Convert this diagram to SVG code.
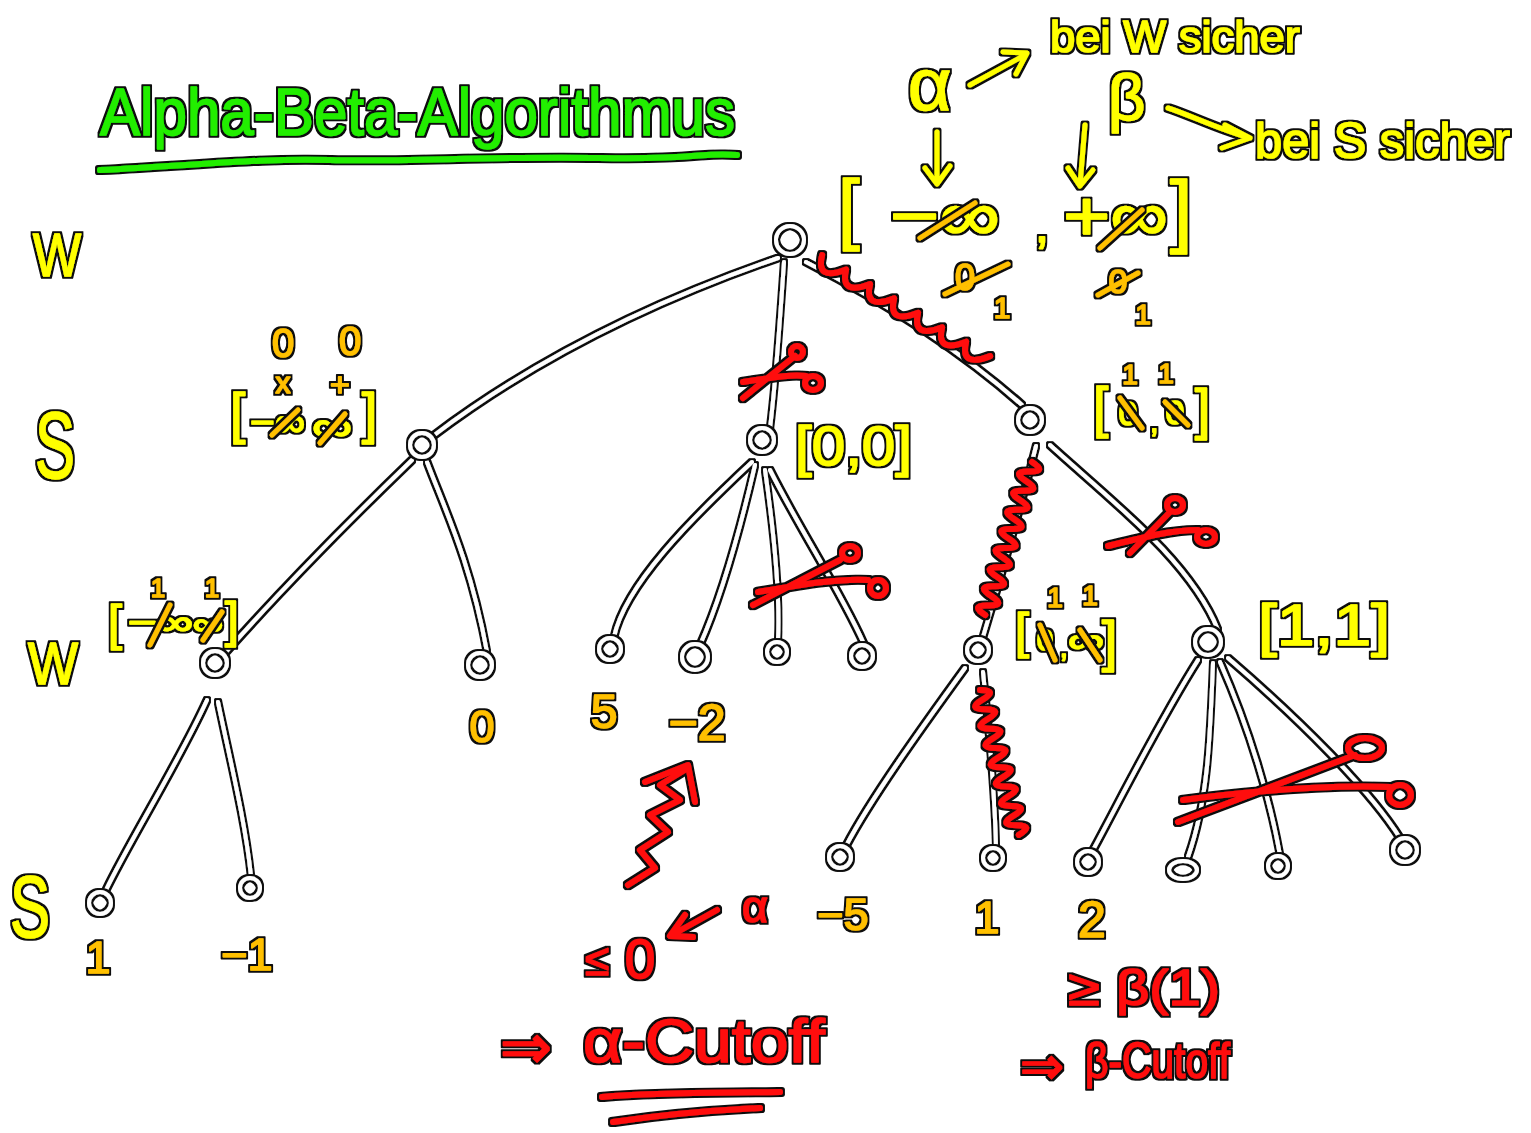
<svg xmlns="http://www.w3.org/2000/svg" width="1531" height="1133" viewBox="0 0 1531 1133">
  <defs>
    <!-- thin black contour around every marker stroke -->
    <filter id="ol" filterUnits="userSpaceOnUse" x="0" y="0" width="1531" height="1133">
      <feMorphology in="SourceAlpha" operator="dilate" radius="1.6" result="d"/>
      <feFlood flood-color="#111"/>
      <feComposite in2="d" operator="in" result="k"/>
      <feMerge><feMergeNode in="k"/><feMergeNode in="SourceGraphic"/></feMerge>
    </filter>
    <style>
      .hw { font-family: "Liberation Sans", "DejaVu Sans", sans-serif; stroke-linejoin: round; stroke-linecap: round; stroke-width: 1.5; }
      .y { fill: #ffff00; stroke: #ffff00; }
      .o { fill: #ffc000; stroke: #ffc000; }
      .r { fill: #ff1010; stroke: #ff1010; }
      .g { fill: #22ee00; stroke: #22ee00; }
      .ln { fill: none; stroke-width: 5; stroke-linecap: round; stroke-linejoin: round; }
      .ly { stroke: #ffff00; }
      .lo { stroke: #ffc000; }
      .lr { stroke: #ff1010; stroke-width: 6; }
      .lg { stroke: #22ee00; stroke-width: 6; }
      .edge { fill: none; stroke: #fff; stroke-width: 4; stroke-linecap: round; }
      .node { fill: none; stroke: #fff; stroke-width: 4; }
    </style>
  </defs>

  <rect width="1531" height="1133" fill="#fff"/>

  <!-- tree edges -->
  <g id="connectors" filter="url(#ol)">
    <path class="edge" d="M778,258 C700,285 560,340 433,436"/>
    <path class="edge" d="M784,262 C780,320 776,380 770,428"/>
    <path class="edge" d="M806,262 C880,300 960,350 1022,405"/>
    <path class="edge" d="M412,460 C350,520 290,580 226,652"/>
    <path class="edge" d="M427,462 C445,510 470,560 487,652"/>
    <path class="edge" d="M752,462 C690,520 625,585 614,637"/>
    <path class="edge" d="M755,465 C740,530 720,600 700,645"/>
    <path class="edge" d="M765,470 C775,540 780,600 778,641"/>
    <path class="edge" d="M770,470 C800,530 840,590 864,644"/>
    <path class="edge" d="M1036,446 C1020,510 1000,580 983,637"/>
    <path class="edge" d="M1050,445 C1110,500 1190,560 1218,630"/>
    <path class="edge" d="M207,700 C180,760 130,840 106,890"/>
    <path class="edge" d="M218,702 C230,760 245,820 251,876"/>
    <path class="edge" d="M965,668 C920,730 870,800 846,846"/>
    <path class="edge" d="M983,672 C990,740 995,800 996,847"/>
    <path class="edge" d="M1198,660 C1160,720 1120,800 1093,850"/>
    <path class="edge" d="M1213,663 C1210,740 1208,800 1188,857"/>
    <path class="edge" d="M1220,662 C1250,730 1270,800 1280,855"/>
    <path class="edge" d="M1228,658 C1300,720 1370,790 1400,838"/>
  </g>

  <!-- tree nodes -->
  <g id="nodes" filter="url(#ol)">
    <g id="root"><circle class="node" cx="790" cy="240" r="14"/></g>
    <g id="s1"><circle class="node" cx="422" cy="445" r="12"/></g>
    <g id="s2"><circle class="node" cx="762" cy="440" r="12"/></g>
    <g id="s3"><circle class="node" cx="1030" cy="420" r="12"/></g>
    <g id="w1"><circle class="node" cx="215" cy="663" r="12"/></g>
    <g id="w2"><circle class="node" cx="480" cy="665" r="12"/></g>
    <g id="w3"><circle class="node" cx="610" cy="649" r="11"/></g>
    <g id="w4"><circle class="node" cx="695" cy="657" r="13"/></g>
    <g id="w5"><circle class="node" cx="777" cy="652" r="10"/></g>
    <g id="w6"><circle class="node" cx="862" cy="656" r="11"/></g>
    <g id="w7"><circle class="node" cx="978" cy="650" r="11"/></g>
    <g id="w8"><circle class="node" cx="1208" cy="642" r="13"/></g>
    <g id="l1"><circle class="node" cx="100" cy="903" r="11"/></g>
    <g id="l2"><circle class="node" cx="250" cy="888" r="10"/></g>
    <g id="l3"><circle class="node" cx="840" cy="857" r="11"/></g>
    <g id="l4"><circle class="node" cx="993" cy="858" r="10"/></g>
    <g id="l5"><circle class="node" cx="1088" cy="862" r="11"/></g>
    <g id="l6"><ellipse class="node" cx="1183" cy="870" rx="14" ry="9"/></g>
    <g id="l7"><circle class="node" cx="1278" cy="866" r="10"/></g>
    <g id="l8"><circle class="node" cx="1405" cy="850" r="12"/></g>
  </g>

  <!-- title -->
  <g id="title" filter="url(#ol)">
    <text class="hw g" x="100" y="135" font-size="66" textLength="635" lengthAdjust="spacingAndGlyphs">Alpha-Beta-Algorithmus</text>
    <path class="ln lg" d="M100,170 C200,165 260,158 330,160 S500,156 600,158 S700,152 737,155"/>
  </g>

  <!-- yellow notes -->
  <g id="yellow-notes" filter="url(#ol)">
    <text class="hw y" x="33" y="276" font-size="62" textLength="48" lengthAdjust="spacingAndGlyphs">W</text>
    <text class="hw y" x="35" y="478" font-size="95" textLength="40" lengthAdjust="spacingAndGlyphs">S</text>
    <text class="hw y" x="28" y="684" font-size="60" textLength="50" lengthAdjust="spacingAndGlyphs">W</text>
    <text class="hw y" x="10" y="937" font-size="88" textLength="40" lengthAdjust="spacingAndGlyphs">S</text>

    <text class="hw y" x="908" y="110" font-size="75">α</text>
    <path class="ln ly" d="M970,85 L1025,55 M1003,52 L1027,53 L1016,74"/>
    <text class="hw y" x="1050" y="52" font-size="44" textLength="250" lengthAdjust="spacingAndGlyphs">bei W sicher</text>
    <text class="hw y" x="1108" y="120" font-size="65">β</text>
    <path class="ln ly" d="M1168,108 C1190,115 1220,130 1250,138 M1225,125 L1250,138 L1222,148"/>
    <text class="hw y" x="1255" y="158" font-size="50" textLength="255" lengthAdjust="spacingAndGlyphs">bei S sicher</text>
    <path class="ln ly" d="M937,132 L937,183 M925,168 L937,184 L950,166"/>
    <path class="ln ly" d="M1085,125 L1080,185 M1068,168 L1080,186 L1093,170"/>

    <!-- root interval -->
    <text class="hw y" x="838" y="235" font-size="78">[</text>
    <text class="hw y" x="890" y="240" font-size="70" textLength="110" lengthAdjust="spacingAndGlyphs">−∞</text>
    <text class="hw y" x="1035" y="242" font-size="50">,</text>
    <text class="hw y" x="1063" y="240" font-size="70" textLength="105" lengthAdjust="spacingAndGlyphs">+∞</text>
    <text class="hw y" x="1170" y="237" font-size="80">]</text>

    <!-- S1 interval -->
    <text class="hw y" x="230" y="432" font-size="55">[</text>
    <text class="hw y" x="250" y="436" font-size="40" textLength="55" lengthAdjust="spacingAndGlyphs">−∞</text>
    <text class="hw y" x="312" y="440" font-size="40" textLength="40" lengthAdjust="spacingAndGlyphs">∞</text>
    <text class="hw y" x="362" y="432" font-size="55">]</text>

    <!-- S2 interval -->
    <text class="hw y" x="795" y="465" font-size="55" textLength="117" lengthAdjust="spacingAndGlyphs">[0,0]</text>

    <!-- S3 interval -->
    <text class="hw y" x="1093" y="426" font-size="55">[</text>
    <text class="hw y" x="1128" y="425" font-size="34" text-anchor="middle">0</text>
    <text class="hw y" x="1150" y="432" font-size="30">,</text>
    <text class="hw y" x="1175" y="424" font-size="34" text-anchor="middle">0</text>
    <text class="hw y" x="1195" y="428" font-size="55">]</text>

    <!-- W1 interval -->
    <text class="hw y" x="108" y="640" font-size="50">[</text>
    <text class="hw y" x="128" y="634" font-size="34" textLength="65" lengthAdjust="spacingAndGlyphs">−∞</text>
    <text class="hw y" x="193" y="634" font-size="30" textLength="30" lengthAdjust="spacingAndGlyphs">∞</text>
    <text class="hw y" x="225" y="637" font-size="50">]</text>

    <!-- W7 interval -->
    <text class="hw y" x="1015" y="648" font-size="50">[</text>
    <text class="hw y" x="1045" y="650" font-size="30" text-anchor="middle">0</text>
    <text class="hw y" x="1060" y="657" font-size="28">,</text>
    <text class="hw y" x="1068" y="652" font-size="34" textLength="36" lengthAdjust="spacingAndGlyphs">∞</text>
    <text class="hw y" x="1102" y="660" font-size="55">]</text>

    <!-- W8 interval -->
    <text class="hw y" x="1258" y="645" font-size="58" textLength="132" lengthAdjust="spacingAndGlyphs">[1,1]</text>
  </g>

  <!-- orange values and updates -->
  <g id="orange-notes" filter="url(#ol)">
    <path class="ln lo" d="M920,238 L975,203 M1100,248 L1142,210"/>
    <text class="hw o" x="965" y="290" font-size="36" text-anchor="middle">0</text>
    <path class="ln lo" d="M945,294 L1008,264"/>
    <text class="hw o" x="1002" y="318" font-size="30" text-anchor="middle">1</text>
    <text class="hw o" x="1118" y="293" font-size="34" text-anchor="middle">0</text>
    <path class="ln lo" d="M1098,295 L1138,273"/>
    <text class="hw o" x="1143" y="324" font-size="28" text-anchor="middle">1</text>

    <text class="hw o" x="283" y="357" font-size="40" text-anchor="middle">0</text>
    <text class="hw o" x="350" y="355" font-size="40" text-anchor="middle">0</text>
    <text class="hw o" x="283" y="393" font-size="30" text-anchor="middle">x</text>
    <text class="hw o" x="340" y="396" font-size="34" text-anchor="middle">+</text>
    <path class="ln lo" d="M272,435 L298,410 M320,443 L345,414"/>

    <text class="hw o" x="1130" y="384" font-size="28" text-anchor="middle">1</text>
    <text class="hw o" x="1166" y="383" font-size="28" text-anchor="middle">1</text>
    <path class="ln lo" d="M1120,398 L1142,428 M1165,402 L1188,425"/>

    <text class="hw o" x="158" y="597" font-size="26" text-anchor="middle">1</text>
    <text class="hw o" x="212" y="597" font-size="26" text-anchor="middle">1</text>
    <path class="ln lo" d="M150,645 L170,605 M203,640 L222,612"/>

    <text class="hw o" x="1055" y="607" font-size="28" text-anchor="middle">1</text>
    <text class="hw o" x="1090" y="605" font-size="28" text-anchor="middle">1</text>
    <path class="ln lo" d="M1040,625 L1055,660 M1080,630 L1100,660"/>

    <text class="hw o" x="482" y="742" font-size="45" text-anchor="middle">0</text>
    <text class="hw o" x="604" y="728" font-size="48" text-anchor="middle">5</text>
    <text class="hw o" x="697" y="740" font-size="50" text-anchor="middle">−2</text>
    <text class="hw o" x="98" y="973" font-size="45" text-anchor="middle">1</text>
    <text class="hw o" x="247" y="970" font-size="45" text-anchor="middle">−1</text>
    <text class="hw o" x="843" y="930" font-size="45" text-anchor="middle">−5</text>
    <text class="hw o" x="987" y="933" font-size="45" text-anchor="middle">1</text>
    <text class="hw o" x="1092" y="937" font-size="50" text-anchor="middle">2</text>
  </g>

  <!-- red cut marks, pruned branches and conclusions -->
  <g id="red-notes" filter="url(#ol)">
    <!-- coils on pruned edges -->
    <path class="ln lr" transform="translate(818,262) rotate(31)" d="M0,-8 q8,26 28,0 q8,26 28,0 q8,26 28,0 q8,26 28,0 q8,26 28,0 q8,26 28,0 q8,26 28,0"/>
    <path class="ln lr" transform="translate(1032,462) rotate(107)" d="M0,0 q5,-18 10,0 t10,0 t10,0 t10,0 t10,0 t10,0 t10,0 t10,0 t10,0 t10,0 t10,0 t10,0 t10,0 t10,0 t10,0 t10,0"/>
    <path class="ln lr" transform="translate(980,690) rotate(75)" d="M0,0 q5,-18 10,0 t10,0 t10,0 t10,0 t10,0 t10,0 t10,0 t10,0 t10,0 t10,0 t10,0 t10,0 t10,0 t10,0 t10,0"/>

    <!-- scissors -->
    <path class="ln lr" d="M743,398 L795,356 M743,382 C770,378 790,374 806,376"/>
    <ellipse class="ln lr" cx="797" cy="352" rx="6" ry="6"/>
    <ellipse class="ln lr" cx="813" cy="383" rx="8" ry="7"/>

    <path class="ln lr" d="M753,605 L840,560 M758,592 C800,585 840,578 868,580"/>
    <ellipse class="ln lr" cx="850" cy="553" rx="8" ry="7"/>
    <ellipse class="ln lr" cx="878" cy="588" rx="8" ry="8"/>

    <path class="ln lr" d="M1130,553 L1170,512 M1108,546 C1140,538 1170,530 1198,530"/>
    <ellipse class="ln lr" cx="1175" cy="505" rx="8" ry="7"/>
    <ellipse class="ln lr" cx="1206" cy="537" rx="9" ry="7"/>

    <path class="ln lr" d="M1178,822 L1355,755 M1183,800 C1260,790 1330,785 1390,787"/>
    <ellipse class="ln lr" cx="1365" cy="748" rx="17" ry="10"/>
    <ellipse class="ln lr" cx="1400" cy="795" rx="11" ry="10"/>

    <!-- zigzag arrow -->
    <path class="ln lr" d="M628,885 L655,868 L640,850 L668,832 L650,815 L680,800 L660,785 L688,768 M645,782 L688,765 L695,802"/>

    <text class="hw r" x="585" y="975" font-size="44">≤</text>
    <text class="hw r" x="640" y="978" font-size="55" text-anchor="middle">0</text>
    <path class="ln lr" d="M717,910 L672,935 M685,915 L670,936 L693,937"/>
    <text class="hw r" x="755" y="922" font-size="45" text-anchor="middle">α</text>

    <text class="hw r" x="500" y="1068" font-size="62" textLength="52" lengthAdjust="spacingAndGlyphs">⇒</text>
    <text class="hw r" x="583" y="1062" font-size="62" textLength="242" lengthAdjust="spacingAndGlyphs">α-Cutoff</text>
    <path class="ln lr" d="M602,1097 C660,1092 720,1093 780,1092 M613,1122 C660,1115 720,1110 760,1108"/>

    <text class="hw r" x="1068" y="1005" font-size="50" textLength="152" lengthAdjust="spacingAndGlyphs">≥ β(1)</text>
    <text class="hw r" x="1020" y="1084" font-size="52" textLength="44" lengthAdjust="spacingAndGlyphs">⇒</text>
    <text class="hw r" x="1085" y="1078" font-size="50" textLength="145" lengthAdjust="spacingAndGlyphs">β-Cutoff</text>
  </g>
</svg>
